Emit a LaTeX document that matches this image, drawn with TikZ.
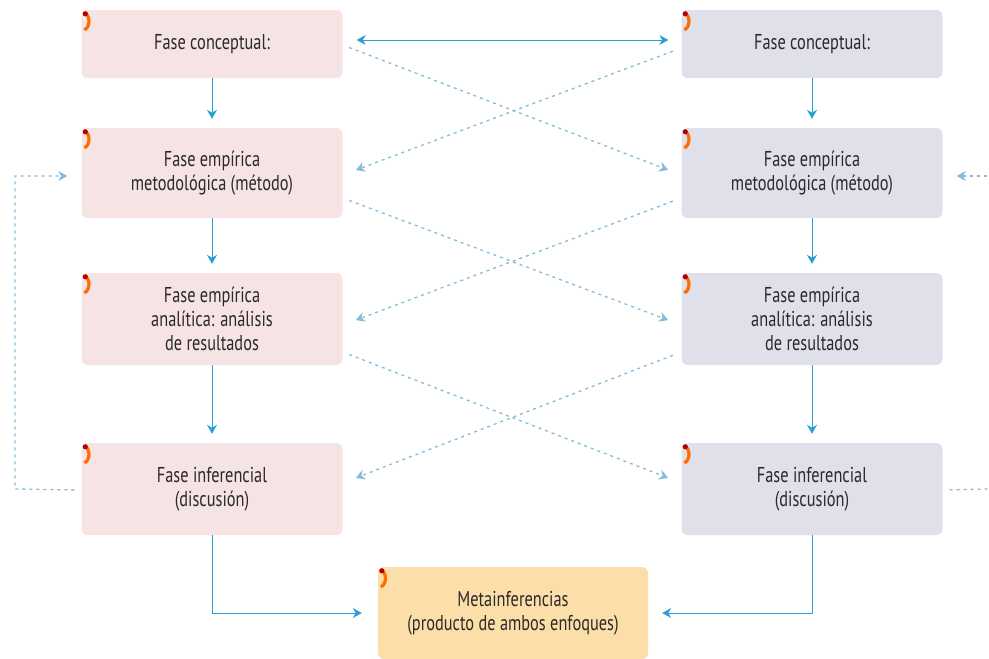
\documentclass[tikz,border=0pt]{standalone}
\usepackage{fontspec}
\setmainfont{PT Sans}[FakeStretch=0.76]
\usepackage{tikz}
\usetikzlibrary{arrows.meta,positioning,calc}

\definecolor{rosa}{HTML}{F6E3E3}
\definecolor{lila}{HTML}{DFE0E9}
\definecolor{naranja}{HTML}{FCDEA9}
\definecolor{azul}{HTML}{2A9FD6}
\definecolor{punteado}{HTML}{86BCD9}
\definecolor{texto}{HTML}{2A2A2A}

\begin{document}
\begin{tikzpicture}[x=1pt,y=-1pt,
    caja/.style={rectangle, rounded corners=6pt, minimum width=261pt,
      align=center, text=texto, inner sep=0pt,
      font=\fontsize{21.5}{24}\selectfont},
    izq/.style={caja, fill=rosa},
    der/.style={caja, fill=lila},
    flecha/.style={-{Stealth[length=9pt,width=10pt]}, azul, line width=1pt},
    cruce/.style={-{Stealth[length=9pt,width=10pt]}, punteado, line width=1.3pt,
      dash pattern=on 3pt off 4pt, shorten <=7pt, shorten >=14pt},
    marca/.style={line width=3.2pt, orange!85!red}]
  \useasboundingbox (0,0) rectangle (989,659);

  % Left column
  \node[izq, minimum height=68pt] (izq1) at (212,44) {Fase conceptual:};
  \node[izq, minimum height=90pt] (izq2) at (212,173) {Fase empírica\\metodológica (método)};
  \node[izq, minimum height=92pt] (izq3) at (212,319) {Fase empírica\\analítica: análisis\\de resultados};
  \node[izq, minimum height=92pt] (izq4) at (212,489) {Fase inferencial\\(discusión)};

  % Right column
  \node[der, minimum height=68pt] (der1) at (812,44) {Fase conceptual:};
  \node[der, minimum height=90pt] (der2) at (812,173) {Fase empírica\\metodológica (método)};
  \node[der, minimum height=92pt] (der3) at (812,319) {Fase empírica\\analítica: análisis\\de resultados};
  \node[der, minimum height=92pt] (der4) at (812,489) {Fase inferencial\\(discusión)};

  % Result
  \node[caja, fill=naranja, minimum width=270pt, minimum height=92pt] (meta) at (513,613)
    {Metainferencias\\(producto de ambos enfoques)};

  % Corner marks
  \foreach \n in {izq1,izq2,izq3,izq4,der1,der2,der3,der4,meta}{
    \draw[marca] ($(\n.north west)+(3,3)$) to[bend left=70] ++(0,17);
    \fill[red!70!black] ($(\n.north west)+(4,4)$) circle (2.6pt);
  }

  % Vertical arrows
  \foreach \a/\b in {izq1/izq2,izq2/izq3,izq3/izq4,der1/der2,der2/der3,der3/der4}
    \draw[flecha, shorten >=9pt] (\a) -- (\b);

  % Top link
  \draw[{Stealth[length=9pt,width=10pt]}-{Stealth[length=9pt,width=10pt]}, azul, line width=1pt,
    shorten <=14pt, shorten >=13pt]
    ([yshift=4pt]izq1.east) -- ([yshift=4pt]der1.west);

  % Crossing links
  \draw[cruce] ([yshift=-1pt]izq1.east) -- ([yshift=-2pt]der2.west);
  \draw[cruce, shorten <=9pt, shorten >=14pt] ([yshift=-4pt]der1.west) -- ([yshift=-2pt]izq2.east);
  \draw[cruce] ([yshift=-25pt]izq2.east) -- ([yshift=-6pt]der3.west);
  \draw[cruce, shorten <=9pt] ([yshift=-25pt]der2.west) -- ([yshift=-6pt]izq3.east);
  \draw[cruce] ([yshift=-33pt]izq3.east) -- ([yshift=6pt]der4.west);
  \draw[cruce, shorten <=9pt] ([yshift=-33pt]der3.west) -- ([yshift=6pt]izq4.east);

  % Feedback loops
  \coordinate (vueltaA) at (15,489);
  \coordinate (vueltaB) at (15,176);
  \draw[cruce] ([yshift=-1pt]izq4.west) -- (vueltaA) -- (vueltaB) -- ([yshift=-3pt]izq2.west);
  \coordinate (bordeA) at (989,489);
  \coordinate (bordeB) at (989,176);
  \draw[punteado, line width=1.3pt, dash pattern=on 3pt off 4pt, shorten <=7pt]
    ([yshift=-1pt]der4.east) -- (bordeA);
  \draw[cruce, shorten <=2pt] (bordeB) -- ([yshift=-3pt]der2.east);

  % To the result
  \draw[flecha, shorten >=16pt] (izq4.south) |- (meta.west);
  \draw[flecha, shorten >=14pt] (der4.south) |- (meta.east);
\end{tikzpicture}
\end{document}
